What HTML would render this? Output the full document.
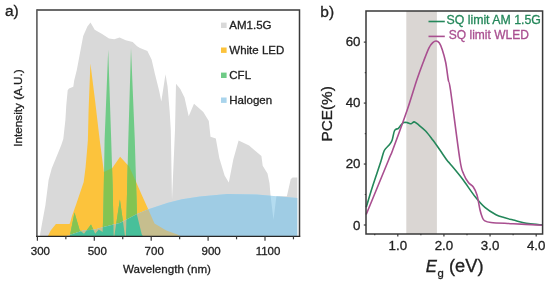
<!DOCTYPE html>
<html><head><meta charset="utf-8"><style>
html,body{margin:0;padding:0;background:#fff;width:550px;height:285px;overflow:hidden;}
svg{display:block;will-change:transform;} text{stroke-width:0.3px;}
</style></head><body>
<svg width="550" height="285" viewBox="0 0 550 285">
<defs>
<clipPath id="cy"><polygon points="47.5,236.3 48.6,234.7 50.7,230.5 55.9,224.1 69.1,224.1 69.9,223.6 72.1,215.8 76.1,204.5 81.0,190.0 83.7,182.0 85.5,168.0 87.0,151.0 87.9,140.0 88.6,110.0 90.4,63.4 95.0,100.0 99.7,140.0 103.9,172.1 112.3,167.9 120.1,156.7 129.1,166.5 136.1,181.9 141.8,195.0 148.2,209.2 154.5,223.4 166.3,230.5 177.4,234.5 181.0,236.3"/></clipPath>
<clipPath id="cg"><polygon points="68.8,236.3 69.9,235.8 74.5,212.4 79.7,230.2 84.0,233.7 91.0,224.6 95.2,233.7 98.7,229.5 102.6,232.0 103.3,215.0 104.6,140.0 108.2,49.8 111.2,140.0 112.6,185.0 113.7,236.3 114.3,236.3 119.9,199.6 125.0,236.3 125.8,236.3 126.2,227.0 127.2,185.0 128.3,140.0 131.0,48.0 134.8,140.0 137.0,215.0 141.8,234.5 143.0,236.3"/></clipPath>
<clipPath id="cgr"><polygon points="40.0,236.3 40.2,233.7 42.3,222.1 45.4,205.3 48.6,180.0 51.7,168.4 56.0,157.9 61.2,145.3 63.3,139.0 65.4,120.0 66.3,105.0 67.7,90.2 69.0,88.4 73.3,86.7 74.2,80.5 76.8,70.0 80.0,52.9 83.2,36.0 87.4,26.6 90.5,22.4 94.7,29.7 102.1,34.0 109.0,38.4 114.3,39.3 119.6,37.5 125.7,40.2 132.7,42.0 137.1,46.3 140.0,47.9 147.4,51.0 151.6,59.5 155.0,74.2 159.2,91.0 161.3,101.6 165.5,74.2 167.6,86.8 169.7,112.1 170.8,130.0 172.0,200.0 175.0,130.0 176.0,83.7 180.3,88.9 184.5,97.4 188.7,116.3 194.0,103.7 203.3,111.9 208.8,121.0 210.5,136.8 215.8,138.6 219.3,157.9 224.6,175.4 228.8,182.5 233.3,159.6 238.6,140.4 249.1,145.6 261.4,156.1 262.7,165.8 267.5,173.5 269.5,183.2 270.6,196.0 273.5,219.7 276.4,196.3 281.0,196.3 286.9,196.3 290.7,179.3 292.6,177.4 297.3,177.4 297.3,236.3"/></clipPath>
</defs>
<polygon points="40.0,236.3 40.2,233.7 42.3,222.1 45.4,205.3 48.6,180.0 51.7,168.4 56.0,157.9 61.2,145.3 63.3,139.0 65.4,120.0 66.3,105.0 67.7,90.2 69.0,88.4 73.3,86.7 74.2,80.5 76.8,70.0 80.0,52.9 83.2,36.0 87.4,26.6 90.5,22.4 94.7,29.7 102.1,34.0 109.0,38.4 114.3,39.3 119.6,37.5 125.7,40.2 132.7,42.0 137.1,46.3 140.0,47.9 147.4,51.0 151.6,59.5 155.0,74.2 159.2,91.0 161.3,101.6 165.5,74.2 167.6,86.8 169.7,112.1 170.8,130.0 172.0,200.0 175.0,130.0 176.0,83.7 180.3,88.9 184.5,97.4 188.7,116.3 194.0,103.7 203.3,111.9 208.8,121.0 210.5,136.8 215.8,138.6 219.3,157.9 224.6,175.4 228.8,182.5 233.3,159.6 238.6,140.4 249.1,145.6 261.4,156.1 262.7,165.8 267.5,173.5 269.5,183.2 270.6,196.0 273.5,219.7 276.4,196.3 281.0,196.3 286.9,196.3 290.7,179.3 292.6,177.4 297.3,177.4 297.3,236.3" fill="#d9d9d9"/>
<polygon points="47.5,236.3 48.6,234.7 50.7,230.5 55.9,224.1 69.1,224.1 69.9,223.6 72.1,215.8 76.1,204.5 81.0,190.0 83.7,182.0 85.5,168.0 87.0,151.0 87.9,140.0 88.6,110.0 90.4,63.4 95.0,100.0 99.7,140.0 103.9,172.1 112.3,167.9 120.1,156.7 129.1,166.5 136.1,181.9 141.8,195.0 148.2,209.2 154.5,223.4 166.3,230.5 177.4,234.5 181.0,236.3" fill="#fcc33c"/>
<polygon points="68.8,236.3 69.9,235.8 74.5,212.4 79.7,230.2 84.0,233.7 91.0,224.6 95.2,233.7 98.7,229.5 102.6,232.0 103.3,215.0 104.6,140.0 108.2,49.8 111.2,140.0 112.6,185.0 113.7,236.3 114.3,236.3 119.9,199.6 125.0,236.3 125.8,236.3 126.2,227.0 127.2,185.0 128.3,140.0 131.0,48.0 134.8,140.0 137.0,215.0 141.8,234.5 143.0,236.3" fill="#6fcb86"/>
<polygon points="68.8,236.3 69.9,235.8 74.5,212.4 79.7,230.2 84.0,233.7 91.0,224.6 95.2,233.7 98.7,229.5 102.6,232.0 103.3,215.0 104.6,140.0 108.2,49.8 111.2,140.0 112.6,185.0 113.7,236.3 114.3,236.3 119.9,199.6 125.0,236.3 125.8,236.3 126.2,227.0 127.2,185.0 128.3,140.0 131.0,48.0 134.8,140.0 137.0,215.0 141.8,234.5 143.0,236.3" fill="#84c452" clip-path="url(#cy)"/>
<polygon points="66.0,236.3 83.0,230.6 94.0,229.8 102.8,227.3 120.0,222.9 137.1,214.0 149.1,209.0 168.0,202.7 182.0,199.2 200.0,196.5 227.3,194.0 256.4,194.5 285.5,196.9 297.3,198.0 297.3,236.3" fill="#b4dcf0"/>
<polygon points="66.0,236.3 83.0,230.6 94.0,229.8 102.8,227.3 120.0,222.9 137.1,214.0 149.1,209.0 168.0,202.7 182.0,199.2 200.0,196.5 227.3,194.0 256.4,194.5 285.5,196.9 297.3,198.0 297.3,236.3" fill="#9fcce4" clip-path="url(#cgr)"/>
<polygon points="66.0,236.3 83.0,230.6 94.0,229.8 102.8,227.3 120.0,222.9 137.1,214.0 149.1,209.0 168.0,202.7 182.0,199.2 200.0,196.5 227.3,194.0 256.4,194.5 285.5,196.9 297.3,198.0 297.3,236.3" fill="#c6be8e" clip-path="url(#cy)"/>
<polygon points="66.0,236.3 83.0,230.6 94.0,229.8 102.8,227.3 120.0,222.9 137.1,214.0 149.1,209.0 168.0,202.7 182.0,199.2 200.0,196.5 227.3,194.0 256.4,194.5 285.5,196.9 297.3,198.0 297.3,236.3" fill="#48c09a" clip-path="url(#cg)"/>
<path d="M36.9,10 H299.5 V236.4" fill="none" stroke="#3a3a3a" stroke-width="1.5"/>
<path d="M36.9,9.25 V237.1" fill="none" stroke="#5a5a5a" stroke-width="1.6"/>
<path d="M36.2,236.4 H300.25" fill="none" stroke="#262626" stroke-width="1.4"/>
<line x1="37.40" y1="236.3" x2="37.40" y2="240.8" stroke="#383838" stroke-width="1.2"/>
<line x1="65.85" y1="236.3" x2="65.85" y2="239.3" stroke="#383838" stroke-width="1.2"/>
<line x1="94.30" y1="236.3" x2="94.30" y2="240.8" stroke="#383838" stroke-width="1.2"/>
<line x1="122.75" y1="236.3" x2="122.75" y2="239.3" stroke="#383838" stroke-width="1.2"/>
<line x1="151.20" y1="236.3" x2="151.20" y2="240.8" stroke="#383838" stroke-width="1.2"/>
<line x1="179.65" y1="236.3" x2="179.65" y2="239.3" stroke="#383838" stroke-width="1.2"/>
<line x1="208.10" y1="236.3" x2="208.10" y2="240.8" stroke="#383838" stroke-width="1.2"/>
<line x1="236.55" y1="236.3" x2="236.55" y2="239.3" stroke="#383838" stroke-width="1.2"/>
<line x1="265.00" y1="236.3" x2="265.00" y2="240.8" stroke="#383838" stroke-width="1.2"/>
<line x1="293.45" y1="236.3" x2="293.45" y2="239.3" stroke="#383838" stroke-width="1.2"/>
<text x="40.40" y="254.8" font-family="Liberation Sans, sans-serif" font-size="11.5" text-anchor="middle" fill="#222" stroke="#222">300</text>
<text x="97.30" y="254.8" font-family="Liberation Sans, sans-serif" font-size="11.5" text-anchor="middle" fill="#222" stroke="#222">500</text>
<text x="154.20" y="254.8" font-family="Liberation Sans, sans-serif" font-size="11.5" text-anchor="middle" fill="#222" stroke="#222">700</text>
<text x="211.10" y="254.8" font-family="Liberation Sans, sans-serif" font-size="11.5" text-anchor="middle" fill="#222" stroke="#222">900</text>
<text x="268.00" y="254.8" font-family="Liberation Sans, sans-serif" font-size="11.5" text-anchor="middle" fill="#222" stroke="#222">1100</text>
<text x="167" y="273" font-family="Liberation Sans, sans-serif" font-size="11.6" text-anchor="middle" fill="#222" stroke="#222">Wavelength (nm)</text>
<text transform="translate(22.4,108) rotate(-90)" font-family="Liberation Sans, sans-serif" font-size="11.7" text-anchor="middle" fill="#222" stroke="#222">Intensity (A.U.)</text>
<text x="5" y="16" font-family="Liberation Sans, sans-serif" font-size="15.5" fill="#222" stroke="#222">a)</text>
<rect x="221" y="22.6" width="5.6" height="5.4" fill="#d9d9d9"/>
<text x="229.3" y="29.4" font-family="Liberation Sans, sans-serif" font-size="11.5" fill="#222" stroke="#222">AM1.5G</text>
<rect x="221" y="47.5" width="5.6" height="5.4" fill="#fcc33c"/>
<text x="229.3" y="54.2" font-family="Liberation Sans, sans-serif" font-size="11.5" fill="#222" stroke="#222">White LED</text>
<rect x="221" y="72.6" width="5.6" height="5.4" fill="#6fcb86"/>
<text x="229.3" y="79" font-family="Liberation Sans, sans-serif" font-size="11.5" fill="#222" stroke="#222">CFL</text>
<rect x="221" y="97.5" width="5.6" height="5.4" fill="#a9d4ec"/>
<text x="229.3" y="103.8" font-family="Liberation Sans, sans-serif" font-size="11.5" fill="#222" stroke="#222">Halogen</text>
<rect x="406.3" y="11" width="30.6" height="223" fill="#dad6d3"/>
<path d="M366.20,207.30 C367.15,204.17 370.13,194.10 371.90,188.50 C373.67,182.90 375.28,178.28 376.80,173.70 C378.32,169.12 379.75,164.87 381.00,161.00 C382.25,157.13 383.00,153.12 384.30,150.50 C385.60,147.88 387.52,146.97 388.80,145.30 C390.08,143.63 391.03,142.97 392.00,140.50 C392.97,138.03 393.53,132.53 394.60,130.50 C395.67,128.47 397.33,129.22 398.40,128.30 C399.47,127.38 400.12,125.95 401.00,125.00 C401.88,124.05 402.67,123.00 403.70,122.60 C404.73,122.20 405.95,122.42 407.20,122.60 C408.45,122.78 410.03,123.82 411.20,123.70 C412.37,123.58 412.97,121.70 414.20,121.90 C415.43,122.10 416.70,123.38 418.60,124.90 C420.50,126.42 423.27,128.52 425.60,131.00 C427.93,133.48 430.27,136.72 432.60,139.80 C434.93,142.88 437.23,146.13 439.60,149.50 C441.97,152.87 445.07,157.63 446.80,160.00 C448.53,162.37 447.42,160.57 450.00,163.70 C452.58,166.83 458.13,173.33 462.30,178.80 C466.47,184.27 471.18,191.68 475.00,196.50 C478.82,201.32 481.70,204.67 485.20,207.70 C488.70,210.73 492.87,213.05 496.00,214.70 C499.13,216.35 501.13,216.72 504.00,217.60 C506.87,218.48 509.13,219.00 513.20,220.00 C517.27,221.00 523.50,222.78 528.40,223.60 C533.30,224.42 540.23,224.68 542.60,224.90" fill="none" stroke="#24875a" stroke-width="1.6" stroke-linejoin="round"/>
<path d="M366.20,214.50 C369.93,205.42 384.18,170.75 388.60,160.00 C393.02,149.25 389.60,158.33 392.70,150.00 C395.80,141.67 403.18,121.67 407.20,110.00 C411.22,98.33 414.03,88.22 416.80,80.00 C419.57,71.78 421.77,66.07 423.80,60.70 C425.83,55.33 427.50,50.82 429.00,47.80 C430.50,44.78 431.62,43.73 432.80,42.60 C433.98,41.47 435.03,40.97 436.10,41.00 C437.17,41.03 438.18,41.38 439.20,42.80 C440.22,44.22 441.12,46.22 442.20,49.50 C443.28,52.78 444.68,57.42 445.70,62.50 C446.72,67.58 447.50,75.42 448.30,80.00 C449.10,84.58 448.58,76.83 450.50,90.00 C452.42,103.17 457.62,145.00 459.80,159.00 C461.98,173.00 462.17,170.08 463.60,174.00 C465.03,177.92 466.78,180.33 468.40,182.50 C470.02,184.67 471.87,184.92 473.30,187.00 C474.73,189.08 475.87,191.12 477.00,195.00 C478.13,198.88 479.23,206.63 480.10,210.30 C480.97,213.97 481.47,215.28 482.20,217.00 C482.93,218.72 483.03,219.68 484.50,220.60 C485.97,221.52 486.25,221.98 491.00,222.50 C495.75,223.02 504.40,223.25 513.00,223.70 C521.60,224.15 537.67,224.95 542.60,225.20" fill="none" stroke="#a94f90" stroke-width="1.6" stroke-linejoin="round"/>
<rect x="366" y="11" width="176.6" height="223" fill="none" stroke="#383838" stroke-width="1.5"/>
<line x1="363.8" y1="225.00" x2="366" y2="225.00" stroke="#383838" stroke-width="1.2"/>
<line x1="364.8" y1="194.52" x2="366" y2="194.52" stroke="#383838" stroke-width="1.2"/>
<line x1="363.8" y1="164.04" x2="366" y2="164.04" stroke="#383838" stroke-width="1.2"/>
<line x1="364.8" y1="133.56" x2="366" y2="133.56" stroke="#383838" stroke-width="1.2"/>
<line x1="363.8" y1="103.08" x2="366" y2="103.08" stroke="#383838" stroke-width="1.2"/>
<line x1="364.8" y1="72.60" x2="366" y2="72.60" stroke="#383838" stroke-width="1.2"/>
<line x1="363.8" y1="42.12" x2="366" y2="42.12" stroke="#383838" stroke-width="1.2"/>
<text x="360.5" y="229.60" font-family="Liberation Sans, sans-serif" font-size="13.3" text-anchor="end" fill="#222" stroke="#222">0</text>
<text x="360.5" y="168.00" font-family="Liberation Sans, sans-serif" font-size="13.3" text-anchor="end" fill="#222" stroke="#222">20</text>
<text x="360.5" y="106.70" font-family="Liberation Sans, sans-serif" font-size="13.3" text-anchor="end" fill="#222" stroke="#222">40</text>
<text x="360.5" y="45.65" font-family="Liberation Sans, sans-serif" font-size="13.3" text-anchor="end" fill="#222" stroke="#222">60</text>
<line x1="374.74" y1="234" x2="374.74" y2="235.3" stroke="#383838" stroke-width="1.2"/>
<line x1="397.80" y1="234" x2="397.80" y2="236.6" stroke="#383838" stroke-width="1.2"/>
<line x1="420.87" y1="234" x2="420.87" y2="235.3" stroke="#383838" stroke-width="1.2"/>
<line x1="443.93" y1="234" x2="443.93" y2="236.6" stroke="#383838" stroke-width="1.2"/>
<line x1="467.00" y1="234" x2="467.00" y2="235.3" stroke="#383838" stroke-width="1.2"/>
<line x1="490.06" y1="234" x2="490.06" y2="236.6" stroke="#383838" stroke-width="1.2"/>
<line x1="513.12" y1="234" x2="513.12" y2="235.3" stroke="#383838" stroke-width="1.2"/>
<line x1="536.19" y1="234" x2="536.19" y2="236.6" stroke="#383838" stroke-width="1.2"/>
<text x="397.80" y="250" font-family="Liberation Sans, sans-serif" font-size="13.3" text-anchor="middle" fill="#222" stroke="#222">1.0</text>
<text x="443.93" y="250" font-family="Liberation Sans, sans-serif" font-size="13.3" text-anchor="middle" fill="#222" stroke="#222">2.0</text>
<text x="490.06" y="250" font-family="Liberation Sans, sans-serif" font-size="13.3" text-anchor="middle" fill="#222" stroke="#222">3.0</text>
<text x="536.19" y="250" font-family="Liberation Sans, sans-serif" font-size="13.3" text-anchor="middle" fill="#222" stroke="#222">4.0</text>
<text transform="translate(331.6,113.8) rotate(-90)" font-family="Liberation Sans, sans-serif" font-size="15.3" text-anchor="middle" fill="#222" stroke="#222">PCE(%)</text>
<text x="425.7" y="272.1" font-family="Liberation Sans, sans-serif" font-size="16.7" font-style="italic" fill="#222" stroke="#222">E</text>
<text x="437.5" y="277.2" font-family="Liberation Sans, sans-serif" font-size="11.3" fill="#222" stroke="#222">g</text>
<text x="449" y="272.2" font-family="Liberation Sans, sans-serif" font-size="18.3" fill="#222" stroke="#222">(eV)</text>
<text x="320.3" y="17.3" font-family="Liberation Sans, sans-serif" font-size="15.5" fill="#222" stroke="#222">b)</text>
<line x1="428.5" y1="21.5" x2="444.8" y2="21.5" stroke="#24875a" stroke-width="1.6"/>
<text x="446.5" y="23.9" font-family="Liberation Sans, sans-serif" font-size="12.3" fill="#24875a" stroke="#24875a">SQ limit AM 1.5G</text>
<line x1="428.5" y1="36.4" x2="444.8" y2="36.4" stroke="#a94f90" stroke-width="1.6"/>
<text x="448.8" y="39.3" font-family="Liberation Sans, sans-serif" font-size="12.0" fill="#a94f90" stroke="#a94f90">SQ limit WLED</text>
</svg>
</body></html>
